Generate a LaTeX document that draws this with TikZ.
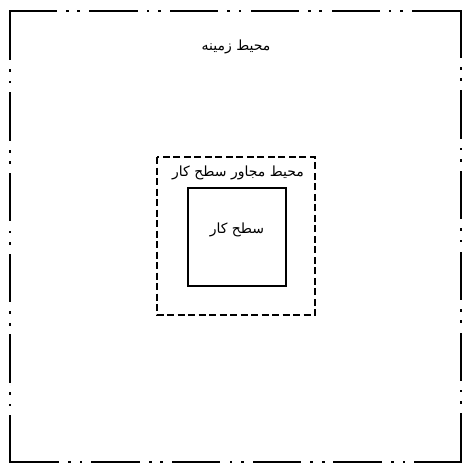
\documentclass[tikz,border=0pt]{standalone}
\usepackage{fontspec}
\newfontfamily\arabicfont[Script=Arabic]{DejaVu Sans}
\TeXXeTstate=1

\begin{document}
\begin{tikzpicture}[x=1pt,y=-1pt,
  frameline/.style={line width=2.6pt,line cap=rect,
    dash pattern=on 45.6pt off 11.5pt on 0.1pt off 11.4pt on 0.1pt off 12pt},
  nearline/.style={line width=1.3pt,dash pattern=on 7pt off 3.5pt},
  workline/.style={line width=2.8pt},
  label/.style={font=\arabicfont\fontsize{14}{16}\selectfont,inner sep=1pt}]
  \useasboundingbox (0,0) rectangle (469,475);
  \coordinate (tl) at (10,11);
  \coordinate (tr) at (461,11);
  \coordinate (br) at (461,462);
  \coordinate (bl) at (10,462);
  % outer frame, one side at a time
  \foreach \p/\q in {tl/tr,tr/br,br/bl,bl/tl}{
    \draw[frameline] (\p) -- (\q);
  }
  \draw[nearline] (157,157) rectangle (315,315);
  \draw[workline] (188,188) rectangle (286,286);
  \node[label] (zamine) at (236,47) {\beginR محیط زمینه\endR};
  \node[label] (mojaver) at (238,173) {\beginR محیط مجاور سطح کار\endR};
  \node[label] (sathkar) at (237,230) {\beginR سطح کار\endR};
\end{tikzpicture}
\end{document}
